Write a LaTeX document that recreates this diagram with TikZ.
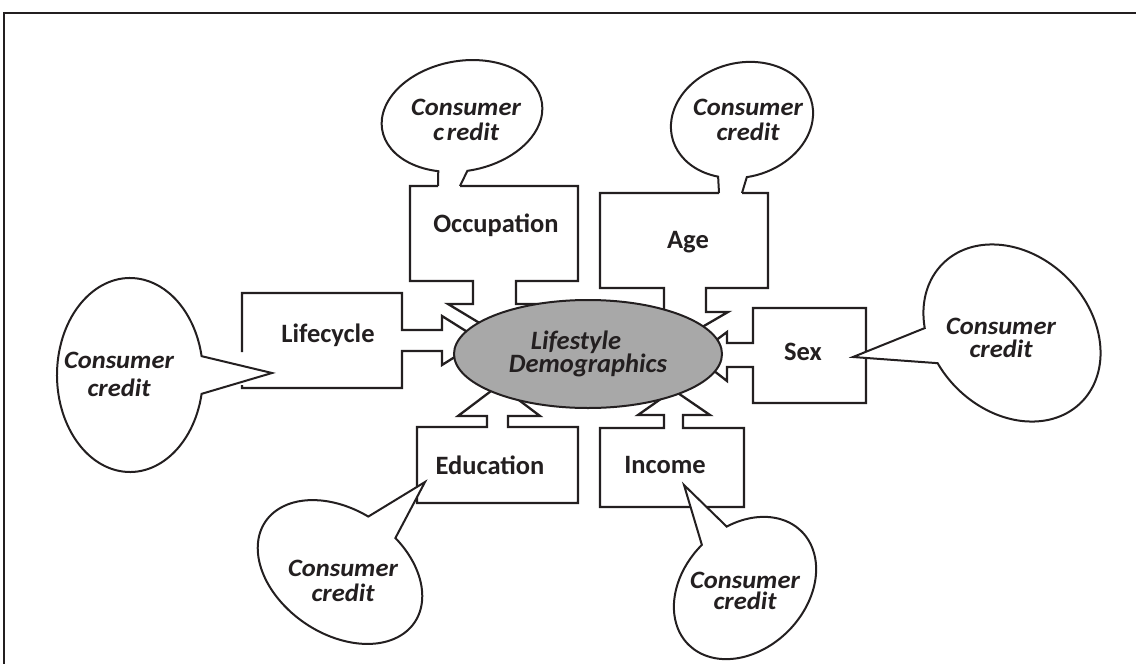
\documentclass[tikz,border=0pt]{standalone}
\usepackage{fontspec}
\setmainfont{Carlito}
\newfontfamily\ccfont[FakeStretch=1.06]{Carlito}
\usetikzlibrary{shapes.geometric}
\definecolor{ink}{RGB}{35,31,32}
\definecolor{ellfill}{RGB}{168,168,168}
\begin{document}
\begin{tikzpicture}[x=1pt,y=-1pt,line join=miter,
  boxline/.style={draw=ink,line width=2.3pt},
  bub/.style={draw=ink,line width=2pt,fill=white},
  boxlabel/.style={font=\fontsize{26.5}{30}\selectfont\bfseries,text=ink,inner sep=0pt},
  cc/.style={font=\ccfont\fontsize{25}{#1}\selectfont\bfseries\itshape,text=ink,align=center,inner sep=0pt}]
\useasboundingbox (0,0) rectangle (1136,664);
% frame
\coordinate (fbl) at (4,664);
\coordinate (ftl) at (4,13);
\coordinate (ftr) at (1136,13);
\draw[draw=ink,line width=2.2pt] (fbl) -- (ftl) -- (ftr);

% tail ends for top bubbles
\coordinate (occA) at (460,186); \coordinate (occB) at (460,200);
\coordinate (occC) at (438,200); \coordinate (occD) at (438,186);
\coordinate (ageA) at (742,193); \coordinate (ageB) at (742,206);
\coordinate (ageC) at (719,206); \coordinate (ageD) at (719,193);
\coordinate (lcTip) at (272,373);
\coordinate (sexTip) at (853,357);
\coordinate (eduTip) at (425,482);
\coordinate (incTip) at (684,485);

% bubbles behind boxes
\begin{scope}[shift={(462,116)},rotate=10]
\filldraw[bub] (114:81 and 55) arc[start angle=114,end angle=453,x radius=81,y radius=55]
  -- (occA) -- (occB) -- (occC) -- (occD) -- cycle;
\end{scope}
\begin{scope}[shift={(742,120)},rotate=15]
\filldraw[bub] (121.6:72 and 57) arc[start angle=121.6,end angle=458.1,x radius=72,y radius=57]
  -- (ageA) -- (ageB) -- (ageC) -- (ageD) -- cycle;
\end{scope}

% boxes with block arrows
\def\occpath{(460,186) -- (578,186) -- (578,281) -- (516,281) -- (516,304) -- (541,304) -- (494.5,332) -- (448,304) -- (473,304) -- (473,281) -- (410,281) -- (410,186) -- (438,186)}
\fill[white] \occpath -- cycle;
\draw[boxline] \occpath;
\def\agepath{(742,193) -- (768,193) -- (768,288) -- (706,288) -- (706,312) -- (728,312) -- (685,337) -- (642,312) -- (664,312) -- (664,288) -- (600,288) -- (600,193) -- (719,193)}
\fill[white] \agepath -- cycle;
\draw[boxline] \agepath;
\def\lcpath{(242,385) -- (242,388) -- (402,388) -- (402,351) -- (442,351) -- (442,365) -- (481,340.5) -- (442,316) -- (442,330) -- (402,330) -- (402,293) -- (242,293) -- (242,352)}
\fill[white] \lcpath -- cycle;
\draw[boxline] \lcpath;
\filldraw[boxline,fill=white] (753,308) -- (866,308) -- (866,403) -- (753,403) -- (753,367) -- (727,367) -- (727,381) -- (695,356) -- (727,332) -- (727,343) -- (753,343) -- cycle;
\filldraw[boxline,fill=white] (417,427) -- (487,427) -- (487,416) -- (458,416) -- (499,385) -- (540,416) -- (508,416) -- (508,427) -- (578,427) -- (578,503) -- (417,503) -- cycle;
\filldraw[boxline,fill=white] (600,428) -- (664,428) -- (664,415) -- (638,415) -- (673.5,390) -- (710,415) -- (683,415) -- (683,428) -- (744,428) -- (744,507) -- (600,507) -- cycle;

% bubbles over boxes
\begin{scope}[shift={(130,375)}]
\filldraw[bub] (11.2:73 and 97) arc[start angle=11.2,end angle=348.8,x radius=73,y radius=97] -- (lcTip) -- cycle;
\end{scope}
\begin{scope}[shift={(1012,333)},rotate=-45]
\filldraw[bub] (131.7:98 and 78) arc[start angle=131.7,end angle=468.6,x radius=98,y radius=78] -- (sexTip) -- cycle;
\end{scope}
\begin{scope}[shift={(340,572)},rotate=-34]
\filldraw[bub] (287.4:90 and 62) arc[start angle=287.4,end angle=625.2,x radius=90,y radius=62] -- (eduTip) -- cycle;
\end{scope}
\begin{scope}[shift={(745,588)},rotate=45]
\filldraw[bub] (292.4:80 and 61) arc[start angle=292.4,end angle=630,x radius=80,y radius=61] -- (incTip) -- cycle;
\end{scope}

% central ellipse with its text
\node[ellipse,draw=ink,line width=2pt,fill=ellfill,minimum width=268pt,minimum height=108pt,inner sep=0pt,
      align=center,text=ink,font=\fontsize{26.5}{21}\selectfont\bfseries\itshape] (core) at (588,354)
      {Lifestyle\hspace*{24pt}\\Demographics};

% box labels
\node[boxlabel] (occ) at (496,225) {Occupation};
\node[boxlabel] (age) at (688,242) {Age};
\node[boxlabel] (lc) at (328,335) {Lifecycle};
\node[boxlabel] (sex) at (803,352) {Sex};
\node[boxlabel] (edu) at (490,465) {Education};
\node[boxlabel] (inc) at (665,465) {Income};

% bubble texts
\node[cc=25] (t1) at (466,120) {Consumer\\c\kern3pt redit};
\node[cc=25] (t2) at (748,120) {Consumer\\credit};
\node[cc=28] (t3) at (119,374) {Consumer\\credit};
\node[cc=23] (t4) at (1001,338) {Consumer\\credit};
\node[cc=25] (t5) at (343,581) {Consumer\\credit};
\node[cc=21] (t6) at (745,591) {Consumer\\credit};
\end{tikzpicture}
\end{document}
